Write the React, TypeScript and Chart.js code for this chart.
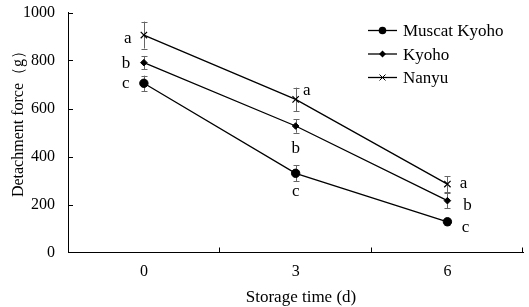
import React, { useEffect, useRef } from 'react';
import { Chart, registerables } from 'chart.js';

Chart.register(...registerables);

const storageDays = ['0', '3', '6'];
const seriesNames = ['Muscat Kyoho', 'Kyoho', 'Nanyu'];
const muscatKyoho = [705, 330, 128];
const kyoho = [791, 527, 216];
const nanyu = [906, 638, 285];
const muscatKyohoErr = [32, 33, 15];
const kyohoErr = [28, 28, 32];
const nanyuErr = [56, 49, 33];
const muscatKyohoSig = ['c', 'c', 'c'];
const kyohoSig = ['b', 'b', 'b'];
const nanyuSig = ['a', 'a', 'a'];
const yTicks = [0, 200, 400, 600, 800, 1000];
const xTitle = 'Storage time (d)';
const yTitle = 'Detachment force（g）';

const SERIF = '"Liberation Serif", "Times New Roman", serif';
const PLOT_TOP = 12.5;

// placement of significance letters relative to each point (dx, baseline dy)
const letterOffsets = [
  [[-18, 5], [0, 23], [18, 10]],
  [[-18, 5], [0, 27], [20, 9]],
  [[-16, 8], [11, -4], [16, 4]],
];

const overlayPlugin = {
  id: 'overlay',
  afterLayout(chart: any) {
    const ca = chart.chartArea;
    ca.top = PLOT_TOP;
    ca.height = ca.bottom - ca.top;
    const ys = chart.scales.y;
    ys.top = PLOT_TOP;
    ys.height = ys.bottom - ys.top;
    ys.configure();
  },
  beforeDatasetsDraw(chart: any) {
    const ctx = chart.ctx;
    const ys = chart.scales.y;
    const errs = [muscatKyohoErr, kyohoErr, nanyuErr];
    ctx.save();
    ctx.strokeStyle = '#666';
    ctx.lineWidth = 1;
    chart.data.datasets.forEach((ds: any, di: number) => {
      const meta = chart.getDatasetMeta(di);
      meta.data.forEach((pt: any, i: number) => {
        const v = ds.data[i];
        const e = errs[di][i];
        const x = Math.round(pt.x) + 0.5;
        const y1 = ys.getPixelForValue(v + e);
        const y2 = ys.getPixelForValue(v - e);
        ctx.beginPath();
        ctx.moveTo(x, y1);
        ctx.lineTo(x, y2);
        ctx.moveTo(x - 3, Math.round(y1) + 0.5);
        ctx.lineTo(x + 3, Math.round(y1) + 0.5);
        ctx.moveTo(x - 3, Math.round(y2) + 0.5);
        ctx.lineTo(x + 3, Math.round(y2) + 0.5);
        ctx.stroke();
      });
    });
    ctx.restore();
  },
  afterDraw(chart: any) {
    const ctx = chart.ctx;
    const area = chart.chartArea;
    const ys = chart.scales.y;
    ctx.save();
    // inward tick marks
    ctx.strokeStyle = '#000';
    ctx.lineWidth = 1;
    ctx.beginPath();
    yTicks.forEach((v) => {
      if (v === 0) return;
      const y = Math.round(ys.getPixelForValue(v)) + 0.5;
      ctx.moveTo(area.left, y);
      ctx.lineTo(area.left + 5, y);
    });
    const n = storageDays.length;
    const w = (area.right - area.left) / n;
    for (let i = 1; i <= n; i++) {
      const x = Math.round(area.left + i * w) - 0.5;
      ctx.moveTo(x, area.bottom);
      ctx.lineTo(x, area.bottom - 5);
    }
    ctx.stroke();

    // significance letters
    const sigs = [muscatKyohoSig, kyohoSig, nanyuSig];
    ctx.fillStyle = '#000';
    ctx.font = '17px ' + SERIF;
    ctx.textAlign = 'center';
    ctx.textBaseline = 'alphabetic';
    chart.data.datasets.forEach((ds: any, di: number) => {
      const meta = chart.getDatasetMeta(di);
      meta.data.forEach((pt: any, i: number) => {
        const [dx, dy] = letterOffsets[di][i];
        ctx.fillText(sigs[di][i], pt.x + dx, pt.y + dy);
      });
    });

    // legend
    ctx.font = '17px ' + SERIF;
    ctx.textAlign = 'left';
    chart.data.datasets.forEach((ds: any, di: number) => {
      const y = 30.5 + di * 23.5;
      ctx.strokeStyle = '#000';
      ctx.lineWidth = 1.3;
      ctx.beginPath();
      ctx.moveTo(368, y);
      ctx.lineTo(397, y);
      ctx.stroke();
      const cx = 382.5;
      ctx.fillStyle = '#000';
      if (ds.pointStyle === 'circle') {
        ctx.beginPath();
        ctx.arc(cx, y, 3.8, 0, Math.PI * 2);
        ctx.fill();
      } else if (ds.pointStyle === 'rectRot') {
        ctx.beginPath();
        ctx.moveTo(cx, y - 3.5);
        ctx.lineTo(cx + 3.5, y);
        ctx.lineTo(cx, y + 3.5);
        ctx.lineTo(cx - 3.5, y);
        ctx.closePath();
        ctx.fill();
      } else {
        ctx.lineWidth = 1;
        ctx.beginPath();
        ctx.moveTo(cx - 3, y - 3);
        ctx.lineTo(cx + 3, y + 3);
        ctx.moveTo(cx + 3, y - 3);
        ctx.lineTo(cx - 3, y + 3);
        ctx.stroke();
      }
      ctx.fillText(ds.label, 403, y + 5.5);
    });

    // axis titles
    ctx.font = '17px ' + SERIF;
    ctx.textAlign = 'center';
    ctx.fillText(xTitle, 301, 302);
    ctx.translate(23, 120);
    ctx.rotate(-Math.PI / 2);
    ctx.font = '16px ' + SERIF;
    ctx.fillText(yTitle, 0, 0);
    ctx.restore();
  },
};

export default function App() {
  const ref = useRef<HTMLCanvasElement | null>(null);
  useEffect(() => {
    document.body.style.margin = '0';
    const canvas = ref.current;
    if (!canvas) return;
    const common = {
      borderColor: '#000',
      backgroundColor: '#000',
      pointBackgroundColor: '#000',
      pointBorderColor: '#000',
      borderWidth: 1.3,
      fill: false,
      tension: 0,
    };
    const chart = new Chart(canvas, {
      type: 'line',
      data: {
        labels: storageDays,
        datasets: [
          { ...common, label: seriesNames[0], data: muscatKyoho, pointStyle: 'circle', pointRadius: 4.2, pointBorderWidth: 1 },
          { ...common, label: seriesNames[1], data: kyoho, pointStyle: 'rectRot', pointRadius: 3.3, pointBorderWidth: 1 },
          { ...common, label: seriesNames[2], data: nanyu, pointStyle: 'crossRot', pointRadius: 4.5, pointBorderWidth: 1.2 },
        ],
      },
      options: {
        responsive: false,
        animation: false,
        events: [],
        layout: { padding: { top: 12.5, right: 3, left: 0, bottom: 0 } },
        plugins: {
          legend: { display: false },
          tooltip: { enabled: false },
          title: { display: false },
        },
        scales: {
          x: {
            type: 'category',
            offset: true,
            grid: { display: false, drawTicks: false },
            border: { display: true, color: '#000', width: 1 },
            ticks: { color: '#000', font: { family: SERIF, size: 16 }, padding: 10, maxRotation: 0 },
            afterFit: (s: any) => { s.height = 54.5; },
          },
          y: {
            min: 0,
            max: 1000,
            grid: { display: false, drawTicks: false },
            border: { display: true, color: '#000', width: 1 },
            ticks: {
              color: '#000',
              font: { family: SERIF, size: 16 },
              padding: 13,
              stepSize: 200,
              callback: (v: any) => String(v),
            },
            afterBuildTicks: (s: any) => { s.ticks = yTicks.map((v) => ({ value: v })); },
            afterFit: (s: any) => { s.width = 68; },
          },
        },
      },
      plugins: [overlayPlugin],
    });
    return () => chart.destroy();
  }, []);
  return (
    <div style={{ position: 'absolute', left: 0, top: 0, width: 529, height: 307, background: '#fff' }}>
      <canvas ref={ref} width={529} height={307} />
    </div>
  );
}
